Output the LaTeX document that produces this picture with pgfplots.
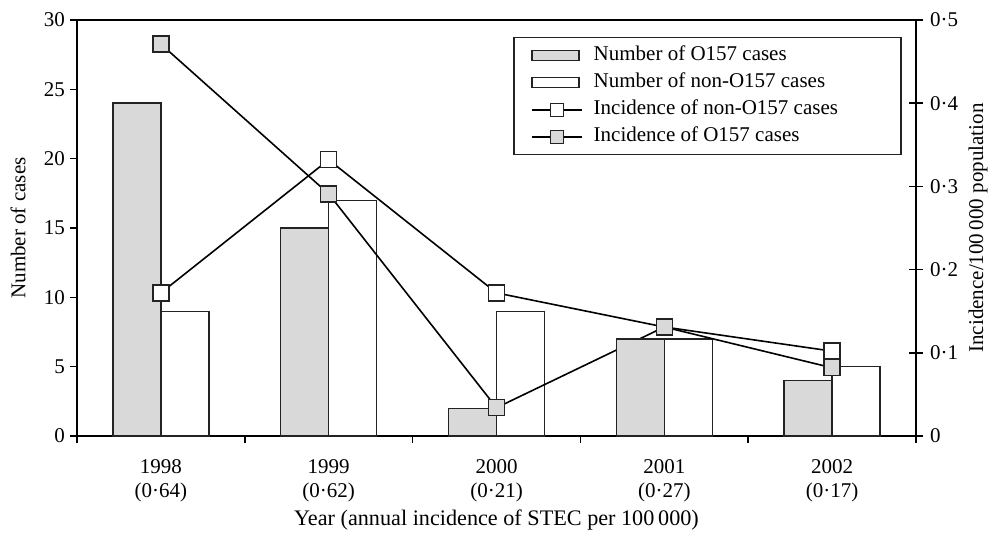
\documentclass[border=0pt]{standalone}
\usepackage{fontspec}
\setmainfont{Liberation Serif}
\usepackage{pgfplots}
\pgfplotsset{compat=1.18}
\definecolor{barg}{RGB}{217,217,217}
\definecolor{edge}{RGB}{35,35,35}

\pgfplotsset{
  base/.style={
    scale only axis, width=839bp, height=416bp,
    xmin=0.5, xmax=5.5,
    /pgf/number format/assume math mode=true,
  },
  bars/.style={base, hide axis, ymin=0, ymax=30, ybar, bar width=48bp},
}

\begin{document}
\fontsize{21bp}{24bp}\selectfont
\begin{tikzpicture}
% non-O157 counts (white bars) and the left axis
\begin{axis}[base, name=main, ymin=0, ymax=30,
  ybar, bar width=48bp,
  axis line style={black, line width=1.5bp},
  tick style={black, line width=1.5bp},
  tick align=outside, major tick length=7bp,
  xtick pos=bottom, ytick pos=left,
  xtick={0.5,1.5,2.5,3.5,4.5,5.5},
  xticklabels={1998\\(0·64),1999\\(0·62),2000\\(0·21),2001\\(0·27),2002\\(0·17),},
  xticklabel style={align=center, xshift=83.9bp, yshift=-9bp},
  yticklabel style={xshift=2bp},
  ytick={0,5,10,15,20,25,30},
  xlabel={Year (annual incidence of STEC per 100\,000)},
  xlabel style={at={(axis description cs:0.5,-0.2019)}, anchor=center,
    font=\fontsize{22.2bp}{26bp}\selectfont},
  ylabel={Number of cases},
  ylabel style={at={(axis description cs:-0.0703,0.5)}, anchor=center},
]
\addplot[bar shift=24bp, fill=white, draw=edge, line width=1.4bp]
  coordinates {(1,9) (2,17) (3,9) (4,7) (5,5)};
\end{axis}
% incidence lines (over the white bars, under the grey ones)
\begin{axis}[base, ymin=0, ymax=0.5, hide axis]
\addplot[black, line width=1.6bp] coordinates {(1,0.172) (2,0.332) (3,0.172) (4,0.131) (5,0.102)};
\addplot[black, line width=1.6bp] coordinates {(1,0.471) (2,0.291) (3,0.034) (4,0.131) (5,0.082)};
\end{axis}
% O157 counts (grey bars)
\begin{axis}[bars]
\addplot[bar shift=-24bp, fill=barg, draw=edge, line width=1.4bp]
  coordinates {(1,24) (2,15) (3,2) (4,7) (5,4)};
\end{axis}
% incidence markers, right axis, legend
\begin{axis}[base, ymin=0, ymax=0.5,
  axis x line=none, axis y line*=right,
  axis line style={black, line width=1.5bp},
  tick style={black, line width=1.5bp},
  tick align=center, major tick length=14bp,
  ytick={0,0.1,0.2,0.3,0.4,0.5},
  yticklabels={0,0·1,0·2,0·3,0·4,0·5},
  yticklabel style={xshift=0bp},
  ylabel={Incidence/100\,000 population},
  ylabel style={at={(axis description cs:1.0739,0.5)}, anchor=center},
  legend style={at={(0.983,0.959)}, anchor=north east, draw=edge,
    line width=1.4bp, inner xsep=17bp, inner ysep=8bp, row sep=7bp,
    nodes={inner sep=0bp, text height=15bp, text depth=5bp},
    cells={anchor=west}},
  legend image code/.code={\draw[mark repeat=2, mark phase=2, #1]
    plot coordinates {(0bp,0bp) (25bp,0bp) (50bp,0bp)}; \path (61bp,0bp);},
]
\addplot[only marks, mark=square*, mark size=8bp,
  mark options={fill=white, draw=edge, line width=1.4bp}, forget plot]
  coordinates {(1,0.172) (2,0.332) (3,0.172) (4,0.131) (5,0.102)};
\addplot[only marks, mark=square*, mark size=8bp,
  mark options={fill=barg, draw=edge, line width=1.4bp}, forget plot]
  coordinates {(1,0.471) (2,0.291) (3,0.034) (4,0.131) (5,0.082)};
\addlegendimage{legend image code/.code={\draw[fill=barg, draw=edge, line width=1.4bp] (0bp,-5bp) rectangle (47bp,5bp); \path (61bp,0bp);}}
\addlegendimage{legend image code/.code={\draw[fill=white, draw=edge, line width=1.4bp] (0bp,-5bp) rectangle (47bp,5bp); \path (61bp,0bp);}}
\addlegendimage{black, line width=1.6bp, mark=square*, mark size=6.5bp, mark options={fill=white, draw=edge, line width=1.4bp}}
\addlegendimage{black, line width=1.6bp, mark=square*, mark size=6.5bp, mark options={fill=barg, draw=edge, line width=1.4bp}}
\legend{Number of O157 cases, Number of non-O157 cases,
  Incidence of non-O157 cases\rule{46bp}{0bp}, Incidence of O157 cases}
\end{axis}
\pgfresetboundingbox
\path[use as bounding box] ([shift={(-77bp,-96bp)}]main.south west)
  rectangle ([shift={(73bp,20bp)}]main.north east);
\end{tikzpicture}
\end{document}
